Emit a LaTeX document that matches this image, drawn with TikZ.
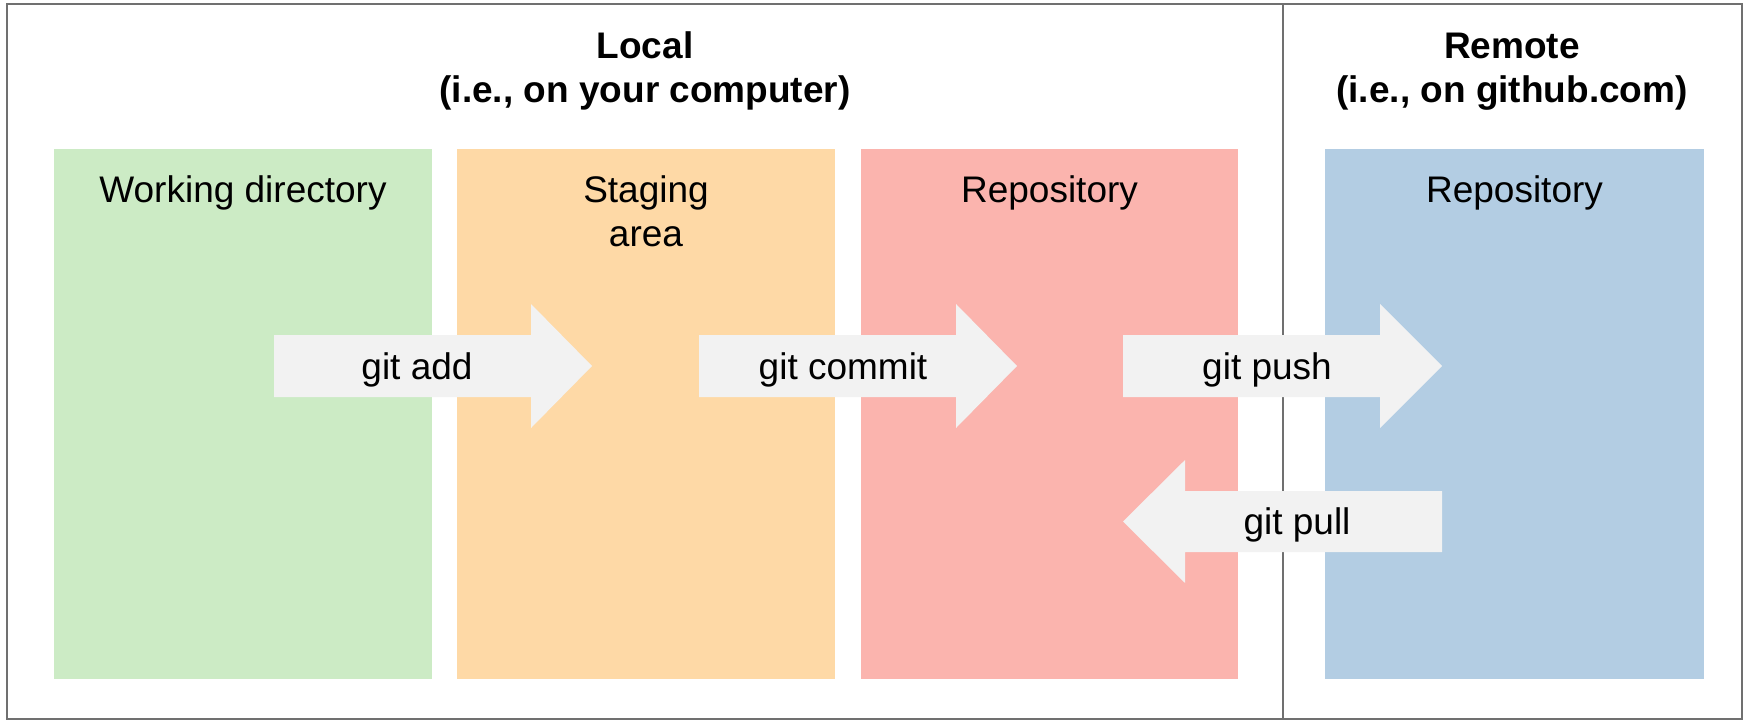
\documentclass[tikz,border=0pt]{standalone}
\usepackage{fontspec}
\setmainfont{Liberation Sans}
\definecolor{pgreen}{HTML}{CCEBC5}
\definecolor{porange}{HTML}{FED9A6}
\definecolor{pred}{HTML}{FBB4AE}
\definecolor{pblue}{HTML}{B3CDE3}
\definecolor{arrowgray}{HTML}{F2F2F2}
\definecolor{framegray}{HTML}{707070}
\tikzset{
  frameline/.style={draw=framegray, line width=2pt},
  areabox/.style={draw=none},
  arrowshape/.style={fill=arrowgray, draw=none},
  lbl/.style={anchor=base, inner sep=0pt, text=black, font=\fontsize{37}{44.5}\selectfont},
  ttl/.style={anchor=base, inner sep=0pt, text=black, font=\fontsize{37}{44.5}\selectfont\bfseries},
}
\begin{document}
\begin{tikzpicture}[x=1pt, y=-1pt]
\useasboundingbox (0,0) rectangle (1745,720);
\fill[white] (0,0) rectangle (1745,720);
% frame and divider
\draw[frameline] (7,4) rectangle (1742,719);
\coordinate (divtop) at (1283,4);
\coordinate (divbot) at (1283,719);
\draw[frameline] (divtop) -- (divbot);
% titles
\node[ttl] (local1) at (645,58) {Local};
\node[ttl] (local2) at (645,102) {(i.e., on your computer)};
\node[ttl] (remote1) at (1512,58) {Remote};
\node[ttl] (remote2) at (1512,102) {(i.e., on github.com)};
% boxes
\fill[areabox, pgreen] (54,149) rectangle (432,679);
\fill[areabox, porange] (457,149) rectangle (835,679);
\fill[areabox, pred] (861,149) rectangle (1238,679);
\fill[areabox, pblue] (1325,149) rectangle (1704,679);
\node[lbl] (wd) at (243,202) {Working directory};
\node[lbl] (sa1) at (646,202) {Staging};
\node[lbl] (sa2) at (646,246) {area};
\node[lbl] (lrepo) at (1049.5,202) {Repository};
\node[lbl] (rrepo) at (1514.5,202) {Repository};
% arrows
\fill[arrowshape] (274,335) -- (531,335) -- (531,304) -- (592,366) -- (531,428) -- (531,397) -- (274,397) -- cycle;
\fill[arrowshape] (699,335) -- (956,335) -- (956,304) -- (1017,366) -- (956,428) -- (956,397) -- (699,397) -- cycle;
\fill[arrowshape] (1123,335) -- (1380,335) -- (1380,304) -- (1442,366) -- (1380,428) -- (1380,397) -- (1123,397) -- cycle;
\fill[arrowshape] (1442,491) -- (1185,491) -- (1185,460) -- (1123,521.5) -- (1185,583) -- (1185,552) -- (1442,552) -- cycle;
\node[lbl] (add) at (417,379) {git add};
\node[lbl] (commit) at (843,379) {git commit};
\node[lbl] (push) at (1267,379) {git push};
\node[lbl] (pull) at (1297,534.5) {git pull};
\end{tikzpicture}
\end{document}
